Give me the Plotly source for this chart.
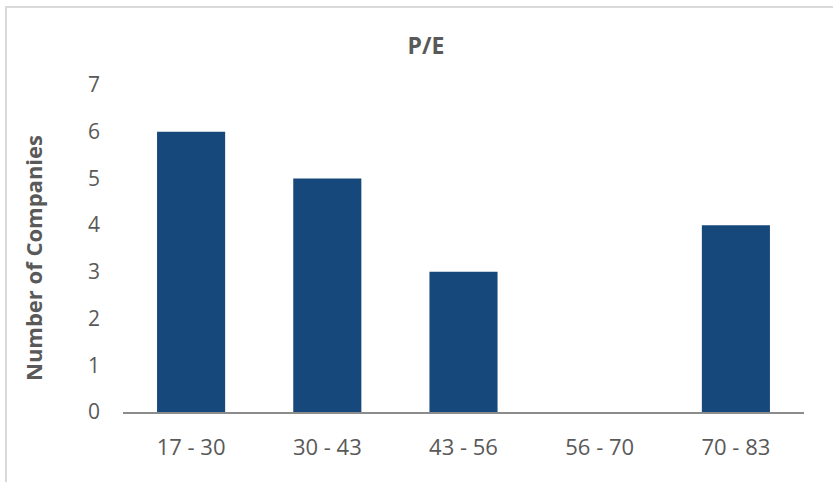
import plotly.graph_objects as go

categories = ["17 - 30", "30 - 43", "43 - 56", "56 - 70", "70 - 83"]
counts = [6, 5, 3, 0, 4]
y_ticks = [0, 1, 2, 3, 4, 5, 6, 7]

W, H = 833, 482
L, R, T, B = 123, 29, 85, 70
FONT = "Open Sans, sans-serif"

fig = go.Figure(go.Bar(x=categories, y=counts, marker=dict(color="#17487C", line=dict(width=0)), width=0.5))

pw = W - L - R
ph = H - T - B
x0 = (6 - L) / pw
y1 = 1 + (T - 7) / ph

fig.update_layout(
    width=W, height=H,
    margin=dict(l=L, r=R, t=T, b=B, pad=0),
    paper_bgcolor="white", plot_bgcolor="white",
    font=dict(family=FONT, color="#595959", size=21),
    title=dict(text="<b>P/E</b>", x=(426 - L) / pw, xref="paper", xanchor="center",
               y=1 - 46 / H, yanchor="middle", font=dict(size=23, color="#595959", family=FONT)),
    showlegend=False,
    xaxis=dict(showline=True, linecolor="#8C8C8C", linewidth=2, ticks="", showgrid=False,
               tickfont=dict(size=22, color="#595959"), ticklabelstandoff=15),
    yaxis=dict(range=[0, 7], tickvals=y_ticks, showgrid=False, zeroline=False, showline=False,
               ticks="", tickfont=dict(size=21, color="#595959"), ticklabelstandoff=22),
    annotations=[dict(text="<b>Number of Companies</b>", textangle=-90, showarrow=False,
                      xref="paper", yref="paper", x=(33 - L) / pw, y=(H - B - 258) / ph,
                      xanchor="center", yanchor="middle",
                      font=dict(size=22, color="#595959", family=FONT))],
    shapes=[dict(type="rect", xref="paper", yref="paper", x0=x0, x1=1.2, y0=-0.5, y1=y1,
                 line=dict(color="#D9D9D9", width=2), fillcolor="rgba(0,0,0,0)", layer="below")],
)

fig.write_html("out.html", config={"displayModeBar": False},
               post_script="document.body.style.margin='0';document.body.style.overflow='hidden';")
